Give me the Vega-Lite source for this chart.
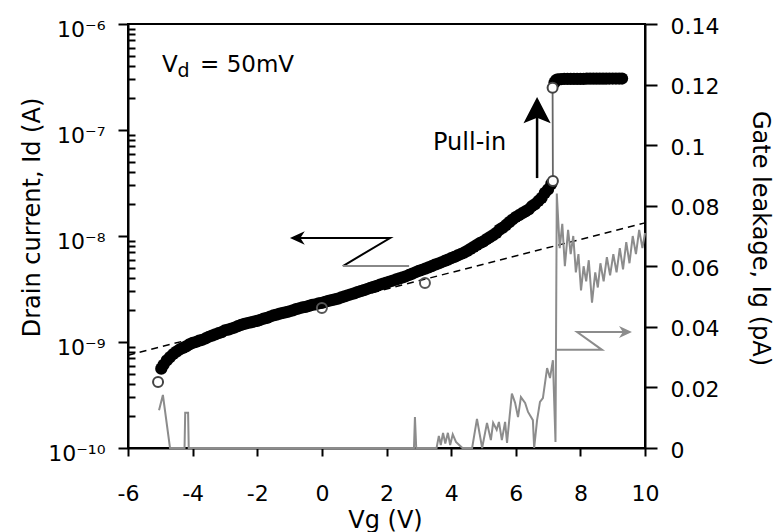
{
  "$schema": "https://vega.github.io/schema/vega-lite/v6.json",
  "width": 517,
  "height": 424,
  "autosize": {"type": "none"},
  "padding": {"left": 128, "top": 24, "right": 130, "bottom": 84},
  "background": "white",
  "config": {
    "view": {"stroke": "black", "strokeWidth": 2},
    "font": "DejaVu Sans",
    "axis": {
      "domainColor": "black", "domainWidth": 2, "tickColor": "black", "tickWidth": 2,
      "labelColor": "black", "titleColor": "black", "labelFont": "DejaVu Sans", "titleFont": "DejaVu Sans",
      "labelFontSize": 22, "titleFontSize": 24, "titleFontWeight": "normal", "grid": false,
      "labelOverlap": false
    }
  },
  "datasets": {
    "band": [
      {"V": -4.97, "I": 5.6e-10}, {"V": -4.9, "I": 6.1e-10}, {"V": -4.8, "I": 6.7e-10}, {"V": -4.7, "I": 7.2e-10},
      {"V": -4.6, "I": 7.7e-10}, {"V": -4.5, "I": 8.1e-10}, {"V": -4.4, "I": 8.5e-10}, {"V": -4.3, "I": 8.8e-10},
      {"V": -4.2, "I": 9.1e-10}, {"V": -4.1, "I": 9.5e-10}, {"V": -4.0, "I": 9.8e-10}, {"V": -3.9, "I": 1.0e-9},
      {"V": -3.8, "I": 1.03e-9}, {"V": -3.7, "I": 1.05e-9}, {"V": -3.6, "I": 1.08e-9}, {"V": -3.5, "I": 1.12e-9},
      {"V": -3.4, "I": 1.15e-9}, {"V": -3.3, "I": 1.18e-9}, {"V": -3.2, "I": 1.21e-9}, {"V": -3.1, "I": 1.24e-9},
      {"V": -3.0, "I": 1.29e-9}, {"V": -2.9, "I": 1.31e-9}, {"V": -2.8, "I": 1.34e-9}, {"V": -2.7, "I": 1.37e-9},
      {"V": -2.6, "I": 1.41e-9}, {"V": -2.5, "I": 1.45e-9}, {"V": -2.4, "I": 1.48e-9}, {"V": -2.3, "I": 1.51e-9},
      {"V": -2.2, "I": 1.53e-9}, {"V": -2.1, "I": 1.56e-9}, {"V": -2.0, "I": 1.58e-9}, {"V": -1.9, "I": 1.62e-9},
      {"V": -1.8, "I": 1.66e-9}, {"V": -1.7, "I": 1.69e-9}, {"V": -1.6, "I": 1.74e-9}, {"V": -1.5, "I": 1.78e-9},
      {"V": -1.4, "I": 1.81e-9}, {"V": -1.3, "I": 1.85e-9}, {"V": -1.2, "I": 1.88e-9}, {"V": -1.1, "I": 1.91e-9},
      {"V": -1.0, "I": 1.95e-9}, {"V": -0.9, "I": 1.99e-9}, {"V": -0.8, "I": 2.04e-9}, {"V": -0.7, "I": 2.08e-9},
      {"V": -0.6, "I": 2.12e-9}, {"V": -0.5, "I": 2.14e-9}, {"V": -0.4, "I": 2.19e-9}, {"V": -0.3, "I": 2.24e-9},
      {"V": -0.2, "I": 2.27e-9}, {"V": -0.1, "I": 2.31e-9}, {"V": 0.0, "I": 2.34e-9}, {"V": 0.1, "I": 2.39e-9},
      {"V": 0.2, "I": 2.44e-9}, {"V": 0.3, "I": 2.48e-9}, {"V": 0.4, "I": 2.52e-9}, {"V": 0.5, "I": 2.57e-9},
      {"V": 0.6, "I": 2.63e-9}, {"V": 0.7, "I": 2.69e-9}, {"V": 0.8, "I": 2.76e-9}, {"V": 0.9, "I": 2.82e-9},
      {"V": 1.0, "I": 2.88e-9}, {"V": 1.1, "I": 2.95e-9}, {"V": 1.2, "I": 3.02e-9}, {"V": 1.3, "I": 3.09e-9},
      {"V": 1.4, "I": 3.16e-9}, {"V": 1.5, "I": 3.24e-9}, {"V": 1.6, "I": 3.31e-9}, {"V": 1.7, "I": 3.39e-9},
      {"V": 1.8, "I": 3.47e-9}, {"V": 1.9, "I": 3.55e-9}, {"V": 2.0, "I": 3.63e-9}, {"V": 2.1, "I": 3.72e-9},
      {"V": 2.2, "I": 3.8e-9}, {"V": 2.3, "I": 3.89e-9}, {"V": 2.4, "I": 3.98e-9}, {"V": 2.5, "I": 4.07e-9},
      {"V": 2.6, "I": 4.17e-9}, {"V": 2.7, "I": 4.29e-9}, {"V": 2.8, "I": 4.42e-9}, {"V": 2.9, "I": 4.55e-9},
      {"V": 3.0, "I": 4.68e-9}, {"V": 3.1, "I": 4.8e-9}, {"V": 3.2, "I": 4.93e-9}, {"V": 3.3, "I": 5.06e-9},
      {"V": 3.4, "I": 5.2e-9}, {"V": 3.5, "I": 5.37e-9}, {"V": 3.6, "I": 5.5e-9}, {"V": 3.7, "I": 5.65e-9},
      {"V": 3.8, "I": 5.81e-9}, {"V": 3.9, "I": 5.98e-9}, {"V": 4.0, "I": 6.17e-9}, {"V": 4.1, "I": 6.35e-9},
      {"V": 4.2, "I": 6.55e-9}, {"V": 4.3, "I": 6.76e-9}, {"V": 4.4, "I": 6.98e-9}, {"V": 4.5, "I": 7.24e-9},
      {"V": 4.6, "I": 7.55e-9}, {"V": 4.7, "I": 7.9e-9}, {"V": 4.8, "I": 8.25e-9}, {"V": 4.9, "I": 8.6e-9},
      {"V": 5.0, "I": 8.91e-9}, {"V": 5.1, "I": 9.33e-9}, {"V": 5.2, "I": 9.77e-9}, {"V": 5.3, "I": 1.02e-8},
      {"V": 5.4, "I": 1.07e-8}, {"V": 5.5, "I": 1.15e-8}, {"V": 5.6, "I": 1.2e-8}, {"V": 5.7, "I": 1.27e-8},
      {"V": 5.8, "I": 1.35e-8}, {"V": 5.9, "I": 1.43e-8}, {"V": 6.0, "I": 1.51e-8}, {"V": 6.1, "I": 1.57e-8},
      {"V": 6.2, "I": 1.64e-8}, {"V": 6.3, "I": 1.71e-8}, {"V": 6.4, "I": 1.78e-8}, {"V": 6.5, "I": 1.91e-8},
      {"V": 6.6, "I": 2.0e-8}, {"V": 6.7, "I": 2.14e-8}, {"V": 6.8, "I": 2.29e-8}, {"V": 6.9, "I": 2.55e-8},
      {"V": 7.0, "I": 2.75e-8}, {"V": 7.1, "I": 3.1e-8},
      {"V": 7.2, "I": 2.8e-7}, {"V": 7.25, "I": 2.95e-7}, {"V": 7.3, "I": 3.0e-7}, {"V": 7.4, "I": 3.02e-7},
      {"V": 7.5, "I": 3.03e-7}, {"V": 7.6, "I": 3.03e-7}, {"V": 7.7, "I": 3.03e-7}, {"V": 7.8, "I": 3.04e-7},
      {"V": 7.9, "I": 3.04e-7}, {"V": 8.0, "I": 3.04e-7}, {"V": 8.1, "I": 3.04e-7}, {"V": 8.2, "I": 3.05e-7},
      {"V": 8.3, "I": 3.05e-7}, {"V": 8.4, "I": 3.05e-7}, {"V": 8.5, "I": 3.05e-7}, {"V": 8.6, "I": 3.05e-7},
      {"V": 8.7, "I": 3.05e-7}, {"V": 8.8, "I": 3.05e-7}, {"V": 8.9, "I": 3.06e-7}, {"V": 9.0, "I": 3.06e-7},
      {"V": 9.1, "I": 3.06e-7}, {"V": 9.2, "I": 3.06e-7}, {"V": 9.29, "I": 3.06e-7}
    ],
    "jump": [
      {"k": 1, "V": 7.15, "I": 3.31e-8}, {"k": 2, "V": 7.14, "I": 2.5e-7}, {"k": 3, "V": 7.22, "I": 2.95e-7}
    ],
    "open": [
      {"V": -5.07, "I": 4.2e-10}, {"V": 7.15, "I": 3.31e-8}, {"V": 7.14, "I": 2.5e-7}
    ],
    "openNoFill": [
      {"V": 0.0, "I": 2.09e-9}, {"V": 3.19, "I": 3.6e-9}
    ],
    "fit": [
      {"V": -6, "I": 7.5e-10}, {"V": 10, "I": 1.33e-8}
    ],
    "zLeft": [
      {"k": 1, "V": 0.65, "I": 5.21e-9}, {"k": 2, "V": 2.11, "I": 9.57e-9}, {"k": 3, "V": -0.74, "I": 9.57e-9}
    ],
    "zLeftLow": [
      {"k": 1, "V": 0.65, "I": 5.21e-9}, {"k": 2, "V": 2.7, "I": 5.21e-9}
    ],
    "headLeft": [{"V": -0.74, "I": 9.57e-9}],
    "upShaft": [
      {"k": 1, "V": 6.66, "I": 3.52e-8}, {"k": 2, "V": 6.66, "I": 1.45e-7}
    ],
    "headUp": [{"V": 6.66, "I": 1.45e-7}],
    "gate": [
      {"V": -5.04, "Ig": 0.0125}, {"V": -4.92, "Ig": 0.0175}, {"V": -4.7, "Ig": 0}, {"V": -4.25, "Ig": 0},
      {"V": -4.23, "Ig": 0.0116}, {"V": -4.14, "Ig": 0.0116}, {"V": -4.12, "Ig": 0}, {"V": 2.85, "Ig": 0},
      {"V": 2.88, "Ig": 0.0102}, {"V": 2.92, "Ig": 0}, {"V": 3.55, "Ig": 0}, {"V": 3.62, "Ig": 0.004},
      {"V": 3.68, "Ig": 0.001}, {"V": 3.75, "Ig": 0.005}, {"V": 3.82, "Ig": 0.0015}, {"V": 3.9, "Ig": 0.005},
      {"V": 3.97, "Ig": 0.001}, {"V": 4.05, "Ig": 0.0045}, {"V": 4.15, "Ig": 0.002}, {"V": 4.25, "Ig": 0.001},
      {"V": 4.35, "Ig": 0}, {"V": 4.65, "Ig": 0}, {"V": 4.8, "Ig": 0.0096}, {"V": 4.96, "Ig": 0},
      {"V": 5.11, "Ig": 0.0083}, {"V": 5.23, "Ig": 0.0026}, {"V": 5.3, "Ig": 0.0083}, {"V": 5.41, "Ig": 0.006},
      {"V": 5.48, "Ig": 0.0086}, {"V": 5.57, "Ig": 0.0026}, {"V": 5.67, "Ig": 0.0086}, {"V": 5.73, "Ig": 0.0017},
      {"V": 5.88, "Ig": 0.018}, {"V": 5.98, "Ig": 0.0149}, {"V": 6.07, "Ig": 0.0102}, {"V": 6.16, "Ig": 0.0168},
      {"V": 6.29, "Ig": 0.0149}, {"V": 6.38, "Ig": 0.0119}, {"V": 6.53, "Ig": 0.0092}, {"V": 6.57, "Ig": 0},
      {"V": 6.66, "Ig": 0.0092}, {"V": 6.75, "Ig": 0.0152}, {"V": 6.84, "Ig": 0.0165}, {"V": 6.97, "Ig": 0.0264},
      {"V": 7.06, "Ig": 0.0231}, {"V": 7.15, "Ig": 0.029}, {"V": 7.23, "Ig": 0.002}, {"V": 7.27, "Ig": 0.084},
      {"V": 7.36, "Ig": 0.066}, {"V": 7.44, "Ig": 0.074}, {"V": 7.52, "Ig": 0.06}, {"V": 7.62, "Ig": 0.072},
      {"V": 7.7, "Ig": 0.064}, {"V": 7.78, "Ig": 0.07}, {"V": 7.86, "Ig": 0.058}, {"V": 7.94, "Ig": 0.064},
      {"V": 8.02, "Ig": 0.052}, {"V": 8.1, "Ig": 0.06}, {"V": 8.18, "Ig": 0.055}, {"V": 8.26, "Ig": 0.062},
      {"V": 8.36, "Ig": 0.048}, {"V": 8.46, "Ig": 0.058}, {"V": 8.54, "Ig": 0.053}, {"V": 8.62, "Ig": 0.061},
      {"V": 8.72, "Ig": 0.055}, {"V": 8.82, "Ig": 0.063}, {"V": 8.92, "Ig": 0.057}, {"V": 9.02, "Ig": 0.064},
      {"V": 9.12, "Ig": 0.058}, {"V": 9.22, "Ig": 0.066}, {"V": 9.32, "Ig": 0.059}, {"V": 9.42, "Ig": 0.068},
      {"V": 9.52, "Ig": 0.061}, {"V": 9.62, "Ig": 0.07}, {"V": 9.72, "Ig": 0.064}, {"V": 9.82, "Ig": 0.072},
      {"V": 9.92, "Ig": 0.066}, {"V": 10.0, "Ig": 0.071}
    ],
    "zRight": [
      {"k": 1, "V": 7.27, "Ig": 0.0324}, {"k": 2, "V": 8.67, "Ig": 0.0324}, {"k": 3, "V": 7.9, "Ig": 0.0383}, {"k": 4, "V": 9.38, "Ig": 0.0383}
    ],
    "headRight": [{"V": 9.38, "Ig": 0.0383}]
  },
  "encoding": {
    "x": {
      "field": "V", "type": "quantitative",
      "scale": {"domain": [-6, 10], "nice": false, "zero": false},
      "axis": {
        "values": [-6, -4, -2, 0, 2, 4, 6, 8, 10],
        "labelExpr": "'' + datum.value",
        "tickSize": 8, "labelPadding": 44, "labelBaseline": "alphabetic", "labelFlush": false,
        "title": "Vg (V)", "titleX": 257, "titleY": 79, "titleBaseline": "alphabetic", "titleAlign": "center"
      }
    }
  },
  "layer": [
    {
      "encoding": {
        "y": {
          "field": "I", "type": "quantitative",
          "scale": {"type": "log", "domain": [1e-10, 1e-6], "nice": false},
          "axis": {
            "orient": "left",
            "values": [1e-10, 2e-10, 3e-10, 4e-10, 5e-10, 6e-10, 7e-10, 8e-10, 9e-10,
                       1e-9, 2e-9, 3e-9, 4e-9, 5e-9, 6e-9, 7e-9, 8e-9, 9e-9,
                       1e-8, 2e-8, 3e-8, 4e-8, 5e-8, 6e-8, 7e-8, 8e-8, 9e-8,
                       1e-7, 2e-7, 3e-7, 4e-7, 5e-7, 6e-7, 7e-7, 8e-7, 9e-7, 1e-6],
            "labelExpr": "datum.value == 1e-6 ? '10⁻⁶' : datum.value == 1e-7 ? '10⁻⁷' : datum.value == 1e-8 ? '10⁻⁸' : datum.value == 1e-9 ? '10⁻⁹' : datum.value == 1e-10 ? '10⁻¹⁰' : ''",
            "tickSize": {"condition": {"test": "datum.value == 1e-10 || datum.value == 1e-9 || datum.value == 1e-8 || datum.value == 1e-7 || datum.value == 1e-6", "value": 10}, "value": -7},
            "labelPadding": 13, "labelBaseline": "middle", "labelOffset": 5,
            "title": "Drain current, Id (A)", "titleX": -89, "titleY": 193, "titleAngle": -90,
            "titleBaseline": "alphabetic", "titleAlign": "center"
          }
        }
      },
      "layer": [
        {"data": {"name": "fit"}, "mark": {"type": "line", "color": "black", "strokeWidth": 1.5, "strokeDash": [7, 5]}, "encoding": {}},
        {"data": {"name": "jump"}, "mark": {"type": "line", "color": "#666666", "strokeWidth": 1.8}, "encoding": {"order": {"field": "k", "type": "quantitative"}}},
        {"data": {"name": "band"}, "mark": {"type": "point", "shape": "circle", "filled": true, "color": "black", "size": 150, "opacity": 1}},
        {"data": {"name": "open"}, "mark": {"type": "point", "shape": "circle", "filled": false, "fill": "white", "fillOpacity": 1, "stroke": "#444444", "strokeWidth": 2, "size": 100, "opacity": 1}},
        {"data": {"name": "openNoFill"}, "mark": {"type": "point", "shape": "circle", "filled": false, "stroke": "#555555", "strokeWidth": 2, "size": 100, "opacity": 1}},
        {"data": {"name": "zLeft"}, "mark": {"type": "line", "color": "black", "strokeWidth": 2}, "encoding": {"order": {"field": "k", "type": "quantitative"}}},
        {"data": {"name": "zLeftLow"}, "mark": {"type": "line", "color": "#888888", "strokeWidth": 2}, "encoding": {"order": {"field": "k", "type": "quantitative"}}},
        {"data": {"name": "headLeft"}, "mark": {"type": "point", "shape": "M-1,0L0.85,-0.85L0.3,0L0.85,0.85Z", "filled": true, "color": "black", "size": 256, "opacity": 1}},
        {"data": {"name": "upShaft"}, "mark": {"type": "line", "color": "black", "strokeWidth": 2.5}, "encoding": {"order": {"field": "k", "type": "quantitative"}}},
        {"data": {"name": "headUp"}, "mark": {"type": "point", "shape": "M0,-1L0.85,0.65L0,0.3L-0.85,0.65Z", "filled": true, "color": "black", "size": 1024, "opacity": 1}},
        {"data": {"values": [{"V": -4.95, "I": 3.52e-7, "t": "V"}]}, "mark": {"type": "text", "align": "left", "baseline": "alphabetic", "fontSize": 23, "font": "DejaVu Sans", "color": "black"}, "encoding": {"text": {"field": "t"}}},
        {"data": {"values": [{"V": -4.47, "I": 3.16e-7, "t": "d"}]}, "mark": {"type": "text", "align": "left", "baseline": "alphabetic", "fontSize": 19, "font": "DejaVu Sans", "color": "black"}, "encoding": {"text": {"field": "t"}}},
        {"data": {"values": [{"V": -3.77, "I": 3.52e-7, "t": "= 50mV"}]}, "mark": {"type": "text", "align": "left", "baseline": "alphabetic", "fontSize": 23, "font": "DejaVu Sans", "color": "black"}, "encoding": {"text": {"field": "t"}}},
        {"data": {"values": [{"V": 3.44, "I": 6.47e-8, "t": "Pull-in"}]}, "mark": {"type": "text", "align": "left", "baseline": "alphabetic", "fontSize": 24, "font": "DejaVu Sans", "color": "black"}, "encoding": {"text": {"field": "t"}}}
      ]
    },
    {
      "encoding": {
        "y": {
          "field": "Ig", "type": "quantitative",
          "scale": {"domain": [0, 0.14], "nice": false, "zero": false},
          "axis": {
            "orient": "right",
            "values": [0, 0.02, 0.04, 0.06, 0.08, 0.1, 0.12, 0.14],
            "labelExpr": "format(datum.value, '~g')",
            "tickSize": 12, "labelPadding": 13, "labelBaseline": "middle", "labelOffset": 2,
            "title": "Gate leakage, Ig (pA)", "titleX": 107, "titleY": 214, "titleAngle": 90,
            "titleBaseline": "alphabetic", "titleAlign": "center"
          }
        }
      },
      "layer": [
        {"data": {"name": "gate"}, "mark": {"type": "line", "color": "#8c8c8c", "strokeWidth": 2}, "encoding": {}},
        {"data": {"name": "zRight"}, "mark": {"type": "line", "color": "#8c8c8c", "strokeWidth": 2}, "encoding": {"order": {"field": "k", "type": "quantitative"}}},
        {"data": {"name": "headRight"}, "mark": {"type": "point", "shape": "M1,0L-0.85,-0.85L-0.3,0L-0.85,0.85Z", "filled": true, "color": "#8c8c8c", "size": 196, "opacity": 1}}
      ]
    }
  ],
  "resolve": {"scale": {"y": "independent"}}
}
